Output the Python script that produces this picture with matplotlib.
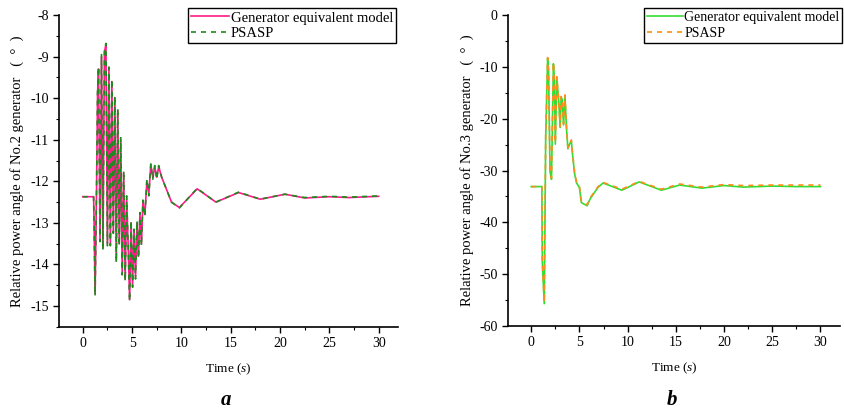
import matplotlib
matplotlib.use("Agg")
import matplotlib.pyplot as plt
from matplotlib.ticker import MultipleLocator

plt.rcParams["font.family"] = ["Liberation Serif", "DejaVu Serif"]
plt.rcParams["mathtext.fontset"] = "custom"
plt.rcParams["mathtext.it"] = "Liberation Serif:italic"
plt.rcParams["mathtext.rm"] = "Liberation Serif"
plt.rcParams["axes.unicode_minus"] = False

# ---- data: (a) No.2 generator ----
t_a = [0, 1.1, 1.15, 1.25, 1.4, 1.5, 1.6, 1.75, 1.9, 2.05, 2.2, 2.35, 2.5,
       2.65, 2.8, 2.95, 3.1, 3.25, 3.4, 3.55, 3.7, 3.85, 4.0, 4.15, 4.3, 4.45,
       4.6, 4.75, 4.9, 5.05, 5.2, 5.35, 5.5, 5.65, 5.8, 5.95, 6.1, 6.3, 6.5,
       6.7, 6.9, 7.1, 7.3, 7.5, 7.7, 8.0, 8.5, 9.0, 9.8, 11.6, 13.5, 15.8,
       18.0, 20.5, 22.5, 25.0, 27.0, 30.0]
gen_a = [-12.37, -12.37, -13.0, -14.7, -12.2, -9.9, -9.3, -13.4, -9.0, -13.6,
         -8.9, -8.7, -13.5, -9.3, -13.5, -9.6, -13.2, -10.0, -13.9, -10.3,
         -13.5, -11.0, -14.2, -11.8, -14.35, -12.4, -13.5, -14.85, -13.0,
         -14.5, -13.2, -14.3, -13.0, -13.8, -12.8, -13.5, -12.5, -12.8, -12.0,
         -12.3, -11.6, -11.9, -11.65, -11.9, -11.65, -11.9, -12.2, -12.5,
         -12.63, -12.18, -12.5, -12.27, -12.43, -12.31, -12.4, -12.37, -12.39,
         -12.36]
psasp_a = [-12.37, -12.37, -13.05, -14.75, -12.15, -9.85, -9.25, -13.45,
           -8.95, -13.65, -8.85, -8.68, -13.55, -9.25, -13.55, -9.55, -13.25,
           -9.95, -13.95, -10.25, -13.55, -10.95, -14.25, -11.75, -14.4,
           -12.35, -13.55, -14.88, -12.95, -14.55, -13.15, -14.35, -12.95,
           -13.85, -12.75, -13.55, -12.45, -12.85, -11.95, -12.35, -11.58,
           -11.95, -11.62, -11.95, -11.62, -11.9, -12.2, -12.5, -12.64, -12.17,
           -12.5, -12.26, -12.43, -12.31, -12.39, -12.36, -12.38, -12.35]

# ---- data: (b) No.3 generator ----
t_b = [0, 1.1, 1.15, 1.35, 1.5, 1.7, 1.8, 1.95, 2.1, 2.3, 2.4, 2.5, 2.65,
       2.85, 3.0, 3.1, 3.2, 3.35, 3.5, 3.65, 3.8, 4.0, 4.16, 4.3, 4.5, 4.7,
       5.0, 5.2, 5.5, 5.8, 6.1, 6.9, 7.45, 9.4, 11.2, 13.5, 15.4, 17.7, 20.0,
       22.0, 25.0, 27.5, 30.0]
gen_b = [-33.1, -33.1, -47.6, -55.7, -23.6, -8.4, -11.0, -30.2, -31.7, -9.4,
         -12.7, -24.9, -12.1, -16.6, -21.7, -15.9, -16.2, -21.2, -15.6, -21.6,
         -25.8, -24.8, -24.3, -27.2, -30.6, -32.4, -33.3, -36.2, -36.5, -36.8,
         -35.5, -33.3, -32.4, -33.8, -32.2, -33.8, -32.8, -33.4, -32.9, -33.2,
         -33.0, -33.1, -33.1]
psasp_b = [-33.1, -33.1, -47.3, -55.5, -23.2, -8.2, -10.8, -30.0, -31.5,
           -9.2, -12.5, -24.6, -11.9, -16.4, -21.5, -15.7, -16.0, -21.0,
           -15.4, -21.4, -25.6, -24.6, -24.1, -27.0, -30.4, -32.2, -33.1,
           -36.0, -36.3, -36.6, -35.3, -33.2, -32.3, -33.6, -32.1, -33.6,
           -32.6, -33.2, -32.7, -32.9, -32.8, -32.8, -32.8]

fig = plt.figure(figsize=(8.44, 4.19), dpi=100)
ax_a = fig.add_axes([0.070, 0.220, 0.402, 0.744])
ax_b = fig.add_axes([0.602, 0.222, 0.393, 0.742])


def style_axis(ax, ylim, ymajor, yminor, ylabel):
    ax.set_xlim(-2.4, 32)
    ax.set_ylim(*ylim)
    ax.xaxis.set_major_locator(MultipleLocator(5))
    ax.xaxis.set_minor_locator(MultipleLocator(2.5))
    ax.yaxis.set_major_locator(MultipleLocator(ymajor))
    ax.yaxis.set_minor_locator(MultipleLocator(yminor))
    for side in ("top", "right"):
        ax.spines[side].set_visible(False)
    for side in ("left", "bottom"):
        ax.spines[side].set_linewidth(1.2)
    ax.tick_params(which="major", direction="out", length=4, width=1.0,
                   labelsize=10)
    ax.tick_params(which="minor", direction="out", length=2.5, width=0.8)
    ax.set_xlabel("Time ($s$)", fontsize=9.5, labelpad=8)
    ax.set_ylabel(ylabel, fontsize=10.5, labelpad=4)


ax_a.plot(t_a, gen_a, color="#ff1a8c", linewidth=1.2,
          label="Generator equivalent model")
ax_a.plot(t_a, psasp_a, color="#1e8a1e", linewidth=1.2, linestyle=(0, (3, 3)),
          label="PSASP")
style_axis(ax_a, (-15.5, -8), 1, 0.5,
           "Relative power angle of No.2 generator   (  °  )")
ax_a.legend(loc="upper right", bbox_to_anchor=(0.469, 0.980),
            bbox_transform=fig.transFigure, fontsize=10.5, frameon=True,
            fancybox=False, edgecolor="black", framealpha=1,
            handlelength=2.6, handletextpad=0.1, borderpad=0.2,
            labelspacing=0.15, borderaxespad=0)

ax_b.plot(t_b, gen_b, color="#33dd33", linewidth=1.2,
          label="Generator equivalent model")
ax_b.plot(t_b, psasp_b, color="#ff8c1a", linewidth=1.2, linestyle=(0, (3, 3)),
          label="PSASP")
style_axis(ax_b, (-60, 0), 10, 5,
           "Relative power angle of No.3 generator   (  °  )")
ax_b.legend(loc="upper right", bbox_to_anchor=(0.998, 0.980),
            bbox_transform=fig.transFigure, fontsize=10, frameon=True,
            fancybox=False, edgecolor="black", framealpha=1,
            handlelength=2.6, handletextpad=0.1, borderpad=0.2,
            labelspacing=0.2, borderaxespad=0)

fig.text(0.268, 0.045, "a", fontsize=15, fontweight="bold", style="italic",
         ha="center", va="center")
fig.text(0.796, 0.045, "b", fontsize=15, fontweight="bold", style="italic",
         ha="center", va="center")

fig.savefig("out.png", dpi=100)
